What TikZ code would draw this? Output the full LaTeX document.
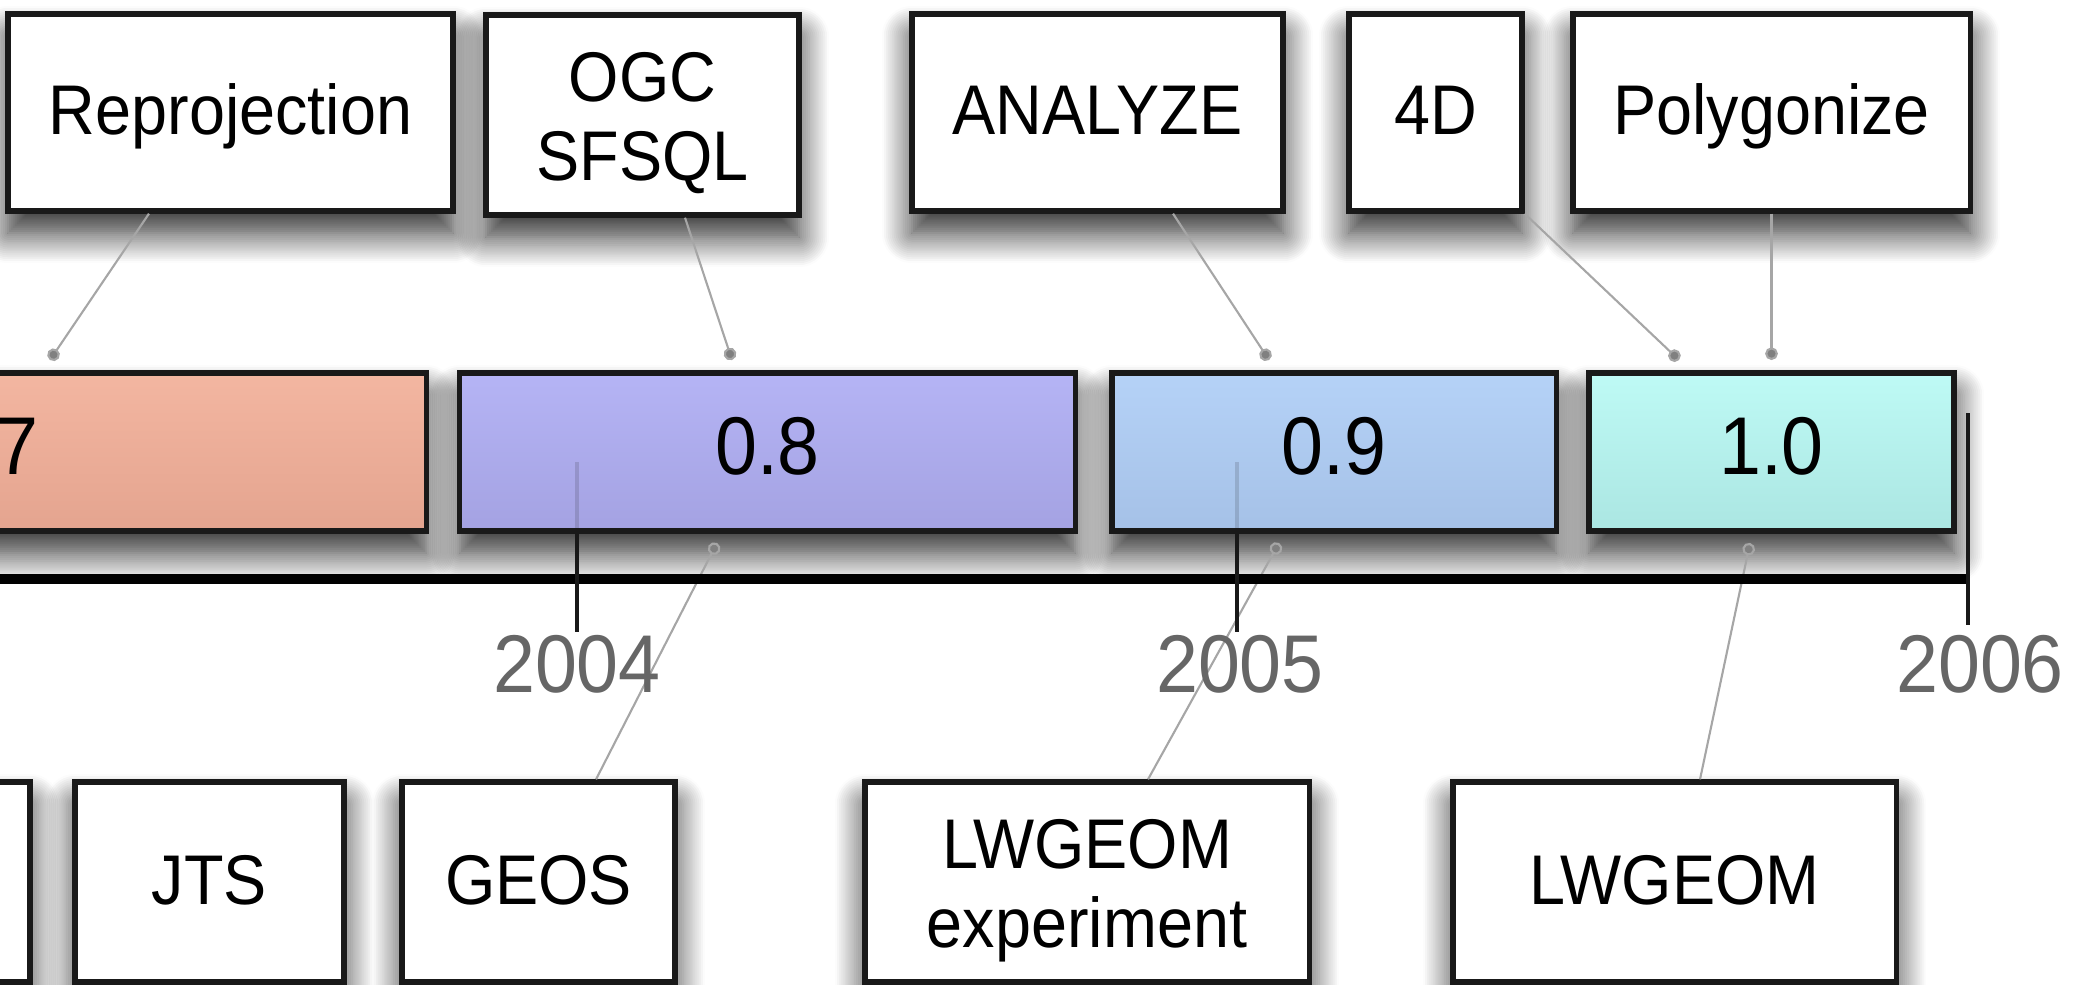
\documentclass[tikz,border=0pt]{standalone}
\usepackage{fontspec}
\setmainfont{Liberation Sans}[FakeStretch=0.92]
\usepackage{xcolor}
\usepackage{tikz}
\usetikzlibrary{arrows.meta,shadows.blur}

\definecolor{v7top}{HTML}{F3B6A1}
\definecolor{v7bot}{HTML}{E4A48F}
\definecolor{v8top}{HTML}{B5B4F5}
\definecolor{v8bot}{HTML}{A4A2E2}
\definecolor{v9top}{HTML}{B5D2F7}
\definecolor{v9bot}{HTML}{A5C1E7}
\definecolor{v10top}{HTML}{BEFAF5}
\definecolor{v10bot}{HTML}{ABE6E2}

\begin{document}
\begin{tikzpicture}[x=0.01cm, y=-0.01cm,
                    box/.style n args={2}{draw=black!90, line width=1.5pt, fill=white,
                    minimum width=#1cm, minimum height=#2cm, inner sep=0pt,
                    align=center, font=\fontsize{20}{22.2}\selectfont,
                    text height=14.5pt, text depth=1.8pt,
                    blur shadow={shadow xshift=0pt, shadow yshift=-0.22cm,
                    shadow blur radius=0.3cm, shadow blur steps=16,
                    shadow opacity=85}},
                    twolines/.style={text height=37pt, text depth=0pt},
                    ver/.style n args={2}{box={#2}{1.58},
                    top color=#1top, bottom color=#1bot,
                    font=\fontsize{23.3}{26}\selectfont,
                    text height=16.7pt, text depth=3.7pt},
                    link/.style={draw=black!35, line width=0.6pt,
                    -{Circle[length=3.6pt, fill=black!50]}},
                    axis/.style={draw=black, line width=2.9pt},
                    yeartick/.style={draw=black!90, line width=1.3pt},
                    year/.style={text=black!60, inner sep=0pt,
                    font=\fontsize{23.3}{26}\selectfont}]
    \useasboundingbox (0,0) rectangle (2076,985);
    \clip (0,0) rectangle (2076,985);

    % features
    \node[box={4.45}{1.97}] (reproj) at (230.5,112.5) {Reprojection};
    \node[box={3.13}{2.00}, twolines] (ogc) at (642.5,115) {OGC\\SFSQL};
    \node[box={3.71}{1.97}] (analyze) at (1097.5,112.5) {ANALYZE};
    \node[box={1.73}{1.97}] (fourd) at (1435.5,112.5) {4D};
    \node[box={3.97}{1.97}] (polygonize) at (1771.5,112.5) {Polygonize};

    % releases
    \node[ver={v7}{8.80}] (v07) at (-14,452) {0.7};
    \node[ver={v8}{6.15}] (v08) at (767.5,452) {0.8};
    \node[ver={v9}{4.44}] (v09) at (1334,452) {0.9};
    \node[ver={v10}{3.65}] (v10) at (1771.5,452) {1.0};

    % libraries
    \node[box={2.70}{2.00}] (older) at (-105,882) {};
    \node[box={2.69}{2.00}] (jts) at (209.5,882) {JTS};
    \node[box={2.73}{2.00}] (geos) at (538.5,882) {GEOS};
    \node[box={4.44}{2.00}, twolines] (lwexp) at (1087,882) {LWGEOM\\experiment};
    \node[box={4.43}{2.00}] (lwgeom) at (1674.5,882) {LWGEOM};

    \coordinate (p1) at (50,360);
    \coordinate (p2) at (732,360);
    \coordinate (p3) at (1269,360);
    \coordinate (p4) at (1679,360);
    \coordinate (p5) at (1771.5,360);
    \coordinate (p6) at (717,543);
    \coordinate (p7) at (1279,543);
    \coordinate (p8) at (1750,543);

    \draw[link] ([xshift=-0.815cm]reproj.south) -- (p1);
    \draw[link] ([xshift=0.425cm]ogc.south) -- (p2);
    \draw[link] ([xshift=0.755cm]analyze.south) -- (p3);
    \draw[link] (fourd.south east) -- (p4);
    \draw[link] (polygonize.south) -- (p5);
    \draw[link] ([xshift=0.575cm]geos.north) -- (p6);
    \draw[link] ([xshift=0.61cm]lwexp.north) -- (p7);
    \draw[link] ([xshift=0.255cm]lwgeom.north) -- (p8);

    % time axis
    \draw[axis] (-10,579) -- (1968,579);
    \draw[yeartick] (577,531) -- (577,632);
    \draw[yeartick, opacity=.15] (577,462) -- (577,531);
    \draw[yeartick] (1237,531) -- (1237,632);
    \draw[yeartick, opacity=.15] (1237,462) -- (1237,531);
    \draw[yeartick] (1968,413) -- (1968,625);

    \node[year] (y2004) at (577,664) {2004};
    \node[year] (y2005) at (1240,664) {2005};
    \node[year] (y2006) at (1980,664) {2006};
\end{tikzpicture}
\end{document}
